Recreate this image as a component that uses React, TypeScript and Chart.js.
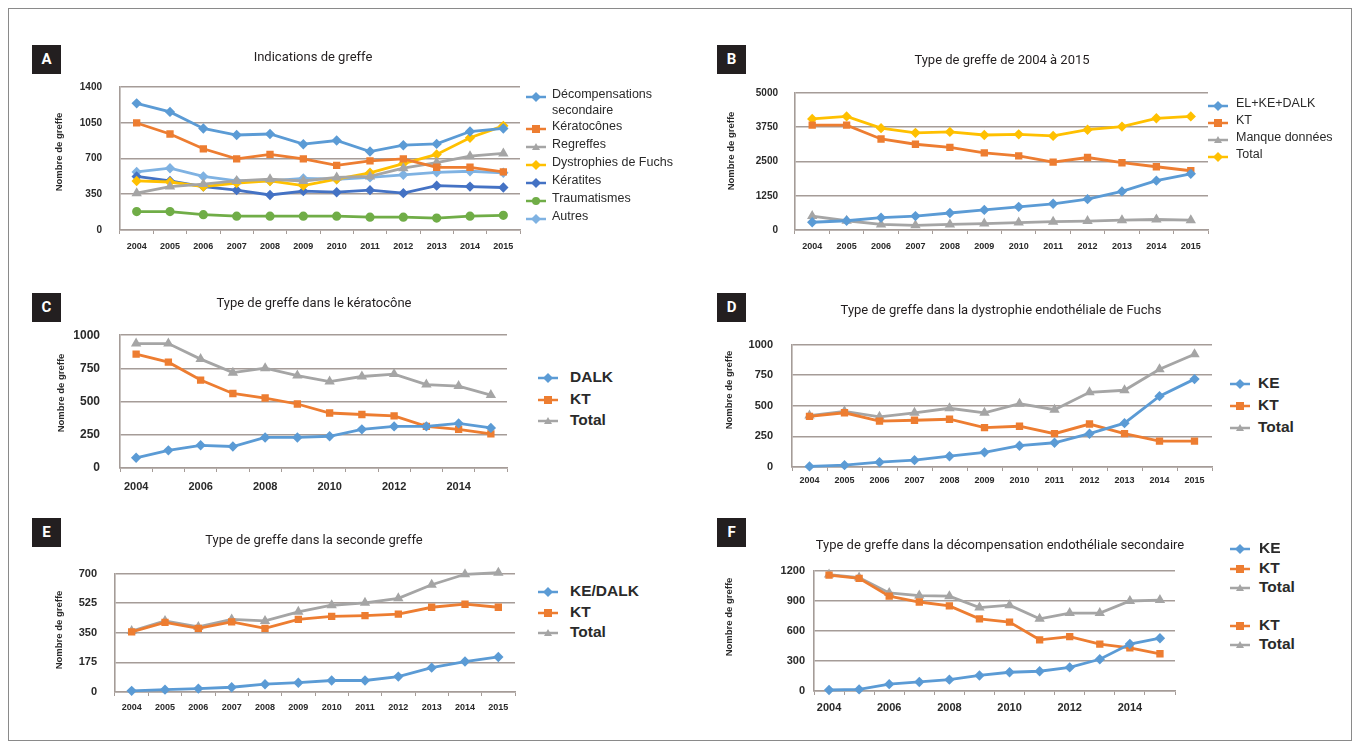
import React, { useEffect, useRef } from 'react';
import { Chart, registerables } from 'chart.js';
Chart.register(...registerables);

// ---------- data ----------
const YEARS = ['2004', '2005', '2006', '2007', '2008', '2009', '2010', '2011', '2012', '2013', '2014', '2015'];

// A - Indications de greffe
const A_TICKS = [0, 350, 700, 1050, 1400];
const A_DECOMP = [1240, 1156, 994, 930, 940, 840, 876, 768, 830, 843, 964, 994];
const A_KERATOCONE = [1048, 940, 795, 696, 740, 696, 632, 677, 696, 614, 614, 569];
const A_REGREFFE = [361, 425, 450, 480, 497, 480, 515, 524, 605, 660, 723, 750];
const A_FUCHS = [480, 470, 425, 460, 480, 434, 497, 560, 650, 740, 903, 1020];
const A_KERATITE = [524, 480, 425, 390, 343, 380, 370, 390, 361, 434, 425, 416];
const A_TRAUMA = [180, 180, 150, 135, 135, 135, 135, 126, 126, 117, 135, 144];
const A_AUTRES = [569, 605, 524, 480, 480, 505, 497, 515, 540, 565, 575, 560];

// B - Type de greffe de 2004 à 2015
const B_TICKS = [0, 1250, 2500, 3750, 5000];
const B_ELKE = [282, 338, 450, 507, 620, 732, 845, 957, 1126, 1408, 1802, 2050];
const B_KT = [3829, 3829, 3322, 3130, 3018, 2815, 2703, 2477, 2646, 2455, 2308, 2162];
const B_MANQUE = [507, 338, 203, 169, 203, 236, 270, 304, 327, 360, 383, 360];
const B_TOTAL = [4054, 4145, 3716, 3547, 3581, 3468, 3491, 3435, 3660, 3773, 4077, 4145];

// C - kératocône
const C_TICKS = [0, 250, 500, 750, 1000];
const C_DALK = [77, 133, 171, 162, 230, 230, 239, 291, 313, 313, 336, 302];
const C_KT = [858, 797, 662, 561, 527, 482, 414, 403, 392, 313, 291, 257];
const C_TOTAL = [937, 937, 820, 718, 752, 696, 651, 689, 707, 628, 617, 549];

// D - dystrophie endothéliale de Fuchs
const D_TICKS = [0, 250, 500, 750, 1000];
const D_KE = [5, 15, 39, 56, 88, 120, 174, 198, 272, 358, 579, 718];
const D_KT = [414, 443, 375, 382, 390, 321, 333, 272, 351, 272, 211, 211];
const D_TOTAL = [420, 455, 410, 443, 480, 443, 517, 468, 610, 627, 799, 921];

// E - seconde greffe
const E_TICKS = [0, 175, 350, 525, 700];
const E_KEDALK = [7, 14, 20, 28, 46, 55, 68, 68, 91, 144, 180, 207];
const E_KT = [355, 412, 376, 415, 376, 429, 447, 452, 460, 501, 519, 501];
const E_TOTAL = [360, 420, 385, 429, 420, 474, 513, 527, 554, 634, 696, 705];

// F - décompensation endothéliale secondaire
const F_TICKS = [0, 300, 600, 900, 1200];
const F_KE = [10, 16, 68, 90, 113, 155, 187, 197, 235, 316, 468, 526];
const F_KT = [1155, 1123, 945, 887, 848, 719, 687, 510, 542, 468, 429, 371];
const F_TOTAL = [1160, 1130, 977, 951, 945, 832, 855, 719, 777, 777, 897, 906];

// ---------- styles ----------
const BLUE = '#5b9bd5';
const ORANGE = '#ed7d31';
const GRAY = '#a5a5a5';
const YELLOW = '#ffc000';
const DKBLUE = '#4472c4';
const GREEN = '#70ad47';
const LTBLUE = '#7fb2e2';
const GRID = '#a59c98';
const TXT = '#2a2a2a';
const FONT = '"Liberation Sans", Arial, sans-serif';
const TITLE_FONT = 'Roboto, "Open Sans", sans-serif';

type Series = { label: string; data: number[]; color: string; point: string };
type Panel = {
  key: string;
  plot: { l: number; t: number; r: number; b: number };
  ticks: number[];
  series: Series[];
  everyOther: boolean;
  xFont: number;
  xPad: number;
  yFont: number;
  yPad: number;
};

const YW = 60;
const PT = 12;
const PR = 14;
const XH = 34;

const PANELS: Panel[] = [
  {
    key: 'A', plot: { l: 120, t: 75, r: 520, b: 230 }, ticks: A_TICKS, everyOther: false, xFont: 9, xPad: 7, yFont: 10, yPad: 18,
    series: [
      { label: 'Décompensations secondaire', data: A_DECOMP, color: BLUE, point: 'rectRot' },
      { label: 'Kératocônes', data: A_KERATOCONE, color: ORANGE, point: 'rect' },
      { label: 'Regreffes', data: A_REGREFFE, color: GRAY, point: 'triangle' },
      { label: 'Dystrophies de Fuchs', data: A_FUCHS, color: YELLOW, point: 'rectRot' },
      { label: 'Kératites', data: A_KERATITE, color: DKBLUE, point: 'rectRot' },
      { label: 'Traumatismes', data: A_TRAUMA, color: GREEN, point: 'circle' },
      { label: 'Autres', data: A_AUTRES, color: LTBLUE, point: 'rectRot' },
    ],
  },
  {
    key: 'B', plot: { l: 795, t: 82, r: 1208, b: 230 }, ticks: B_TICKS, everyOther: false, xFont: 9, xPad: 7, yFont: 10, yPad: 17,
    series: [
      { label: 'EL+KE+DALK', data: B_ELKE, color: BLUE, point: 'rectRot' },
      { label: 'KT', data: B_KT, color: ORANGE, point: 'rect' },
      { label: 'Manque données', data: B_MANQUE, color: GRAY, point: 'triangle' },
      { label: 'Total', data: B_TOTAL, color: YELLOW, point: 'rectRot' },
    ],
  },
  {
    key: 'C', plot: { l: 120, t: 320, r: 507, b: 468 }, ticks: C_TICKS, everyOther: true, xFont: 11, xPad: 8, yFont: 12, yPad: 20,
    series: [
      { label: 'DALK', data: C_DALK, color: BLUE, point: 'rectRot' },
      { label: 'KT', data: C_KT, color: ORANGE, point: 'rect' },
      { label: 'Total', data: C_TOTAL, color: GRAY, point: 'triangle' },
    ],
  },
  {
    key: 'D', plot: { l: 792, t: 331, r: 1212, b: 467 }, ticks: D_TICKS, everyOther: false, xFont: 9, xPad: 4, yFont: 11, yPad: 19,
    series: [
      { label: 'KE', data: D_KE, color: BLUE, point: 'rectRot' },
      { label: 'KT', data: D_KT, color: ORANGE, point: 'rect' },
      { label: 'Total', data: D_TOTAL, color: GRAY, point: 'triangle' },
    ],
  },
  {
    key: 'E', plot: { l: 115, t: 561, r: 515, b: 692 }, ticks: E_TICKS, everyOther: false, xFont: 9, xPad: 6, yFont: 11, yPad: 18,
    series: [
      { label: 'KE/DALK', data: E_KEDALK, color: BLUE, point: 'rectRot' },
      { label: 'KT', data: E_KT, color: ORANGE, point: 'rect' },
      { label: 'Total', data: E_TOTAL, color: GRAY, point: 'triangle' },
    ],
  },
  {
    key: 'F', plot: { l: 814, t: 567, r: 1175, b: 691 }, ticks: F_TICKS, everyOther: true, xFont: 11, xPad: 6, yFont: 11, yPad: 9,
    series: [
      { label: 'KE', data: F_KE, color: BLUE, point: 'rectRot' },
      { label: 'KT', data: F_KT, color: ORANGE, point: 'rect' },
      { label: 'Total', data: F_TOTAL, color: GRAY, point: 'triangle' },
    ],
  },
];

// ---------- layout of decorations ----------
const LETTERS = [
  { k: 'A', x: 32, y: 45 }, { k: 'B', x: 717, y: 45 },
  { k: 'C', x: 32, y: 293 }, { k: 'D', x: 717, y: 293 },
  { k: 'E', x: 32, y: 518 }, { k: 'F', x: 717, y: 518 },
];
const TITLES = [
  { t: 'Indications de greffe', x: 313, y: 57 },
  { t: 'Type de greffe de 2004 à 2015', x: 1002, y: 60 },
  { t: 'Type de greffe dans le kératocône', x: 314, y: 303 },
  { t: 'Type de greffe dans la dystrophie endothéliale de Fuchs', x: 1001, y: 310 },
  { t: 'Type de greffe dans la seconde greffe', x: 314, y: 540 },
  { t: 'Type de greffe dans la décompensation endothéliale secondaire', x: 1000, y: 545 },
];
const YTITLES = [
  { x: 58, y: 152 }, { x: 730, y: 151 }, { x: 60, y: 393 },
  { x: 728, y: 390 }, { x: 58, y: 630 }, { x: 728, y: 617 },
];

type LegItem = { label: string; color: string; point: string; y: number };
const LEGENDS: { mx: number; tx: number; size: number; weight: number; items: LegItem[] }[] = [
  {
    mx: 536, tx: 552, size: 12.5, weight: 400, items: [
      { label: 'Décompensations', color: BLUE, point: 'rectRot', y: 97 },
      { label: 'secondaire', color: '', point: '', y: 113 },
      { label: 'Kératocônes', color: ORANGE, point: 'rect', y: 129 },
      { label: 'Regreffes', color: GRAY, point: 'triangle', y: 147 },
      { label: 'Dystrophies de Fuchs', color: YELLOW, point: 'rectRot', y: 165 },
      { label: 'Kératites', color: DKBLUE, point: 'rectRot', y: 183 },
      { label: 'Traumatismes', color: GREEN, point: 'circle', y: 201 },
      { label: 'Autres', color: LTBLUE, point: 'rectRot', y: 219 },
    ],
  },
  {
    mx: 1218, tx: 1236, size: 12.5, weight: 400, items: [
      { label: 'EL+KE+DALK', color: BLUE, point: 'rectRot', y: 106 },
      { label: 'KT', color: ORANGE, point: 'rect', y: 123 },
      { label: 'Manque données', color: GRAY, point: 'triangle', y: 140 },
      { label: 'Total', color: YELLOW, point: 'rectRot', y: 157 },
    ],
  },
  {
    mx: 548, tx: 570, size: 15.5, weight: 600, items: [
      { label: 'DALK', color: BLUE, point: 'rectRot', y: 378 },
      { label: 'KT', color: ORANGE, point: 'rect', y: 400 },
      { label: 'Total', color: GRAY, point: 'triangle', y: 421 },
    ],
  },
  {
    mx: 1240, tx: 1258, size: 15.5, weight: 600, items: [
      { label: 'KE', color: BLUE, point: 'rectRot', y: 384 },
      { label: 'KT', color: ORANGE, point: 'rect', y: 406 },
      { label: 'Total', color: GRAY, point: 'triangle', y: 428 },
    ],
  },
  {
    mx: 548, tx: 570, size: 15.5, weight: 600, items: [
      { label: 'KE/DALK', color: BLUE, point: 'rectRot', y: 592 },
      { label: 'KT', color: ORANGE, point: 'rect', y: 613 },
      { label: 'Total', color: GRAY, point: 'triangle', y: 633 },
    ],
  },
  {
    mx: 1240, tx: 1259, size: 15.5, weight: 600, items: [
      { label: 'KE', color: BLUE, point: 'rectRot', y: 549 },
      { label: 'KT', color: ORANGE, point: 'rect', y: 569 },
      { label: 'Total', color: GRAY, point: 'triangle', y: 588 },
      { label: 'KT', color: ORANGE, point: 'rect', y: 626 },
      { label: 'Total', color: GRAY, point: 'triangle', y: 645 },
    ],
  },
];

function Marker({ color, point }: { color: string; point: string }) {
  if (!color) return null;
  let shape: React.ReactNode = null;
  if (point === 'rectRot') shape = <polygon points="10,1 15,6 10,11 5,6" fill={color} />;
  else if (point === 'rect') shape = <rect x={6} y={2} width={8} height={8} fill={color} />;
  else if (point === 'triangle') shape = <polygon points="10,2 14,9 6,9" fill={color} />;
  else shape = <circle cx={10} cy={6} r={4} fill={color} />;
  return (
    <svg width={20} height={12} style={{ display: 'block' }}>
      <line x1={0} y1={6} x2={20} y2={6} stroke={color} strokeWidth={2.5} />
      {shape}
    </svg>
  );
}

function LineChart({ p }: { p: Panel }) {
  const ref = useRef<HTMLCanvasElement>(null);
  const w = p.plot.r - p.plot.l + YW + PR;
  const h = p.plot.b - p.plot.t + PT + XH;
  useEffect(() => {
    const ticks = p.ticks;
    const chart = new Chart(ref.current as HTMLCanvasElement, {
      type: 'line',
      data: {
        labels: YEARS,
        datasets: p.series.map((s) => ({
          label: s.label,
          data: s.data,
          borderColor: s.color,
          backgroundColor: s.color,
          pointBackgroundColor: s.color,
          pointBorderColor: s.color,
          pointStyle: s.point as any,
          pointRadius: 3.2,
          borderWidth: 2.8,
          tension: 0,
          clip: false as any,
        })),
      },
      options: {
        animation: false,
        responsive: false,
        maintainAspectRatio: false,
        layout: { padding: { left: 0, top: PT, right: PR, bottom: 0 } },
        plugins: { legend: { display: false }, tooltip: { enabled: false } },
        scales: {
          x: {
            offset: true,
            grid: { display: true, drawOnChartArea: false, offset: true, tickLength: 4, color: GRID, lineWidth: 1 },
            border: { display: true, color: GRID, width: 1.6 },
            ticks: {
              autoSkip: false,
              maxRotation: 0,
              minRotation: 0,
              padding: p.xPad,
              color: TXT,
              font: { family: FONT, size: p.xFont, weight: 'bold' },
              callback: (_v: any, i: number) => (p.everyOther && i % 2 === 1 ? '' : YEARS[i]),
            },
            afterFit: (s: any) => { s.height = XH; },
          },
          y: {
            min: ticks[0],
            max: ticks[ticks.length - 1],
            grid: { color: GRID, lineWidth: 1.6, drawTicks: false },
            border: { display: true, color: GRID, width: 1.6 },
            ticks: {
              stepSize: ticks[1] - ticks[0],
              padding: p.yPad,
              color: TXT,
              font: { family: FONT, size: p.yFont, weight: 'bold' },
              callback: (v: any) => String(v),
            },
            afterFit: (s: any) => { s.width = YW; },
          },
        },
      },
    });
    return () => chart.destroy();
  }, []);
  return (
    <canvas
      ref={ref}
      width={w}
      height={h}
      style={{ position: 'absolute', left: p.plot.l - YW, top: p.plot.t - PT, width: w, height: h }}
    />
  );
}

export default function App() {
  return (
    <div style={{ position: 'absolute', left: 0, top: 0, width: 1359, height: 748, overflow: 'hidden', background: '#fff' }}>
      <div style={{ position: 'absolute', left: 8, top: 8, width: 1342, height: 731, border: '1px solid #8a8a8a' }} />
      {PANELS.map((p) => <LineChart key={p.key} p={p} />)}
      {LETTERS.map((l) => (
        <div key={l.k} style={{
          position: 'absolute', left: l.x, top: l.y, width: 29, height: 29, background: '#231f20', color: '#fff',
          font: `bold 15px ${TITLE_FONT}`, lineHeight: '29px', textAlign: 'center',
        }}>{l.k}</div>
      ))}
      {TITLES.map((t, i) => (
        <div key={i} style={{
          position: 'absolute', left: t.x - 300, top: t.y - 9, width: 600, textAlign: 'center',
          font: `13px ${TITLE_FONT}`, color: '#231f20', lineHeight: '18px', whiteSpace: 'nowrap',
        }}>{t.t}</div>
      ))}
      {YTITLES.map((t, i) => (
        <div key={i} style={{
          position: 'absolute', left: t.x, top: t.y, transform: 'translate(-50%, -50%) rotate(-90deg)',
          font: `bold 9.5px ${FONT}`, color: TXT, whiteSpace: 'nowrap',
        }}>Nombre de greffe</div>
      ))}
      {LEGENDS.map((lg, i) => (
        <React.Fragment key={i}>
          {lg.items.map((it, j) => (
            <React.Fragment key={j}>
              <div style={{ position: 'absolute', left: lg.mx - 10, top: it.y - 6 }}>
                <Marker color={it.color} point={it.point} />
              </div>
              <div style={{
                position: 'absolute', left: lg.tx, top: it.y - 10, height: 20, lineHeight: '20px',
                font: `${lg.weight} ${lg.size}px ${FONT}`, color: TXT, whiteSpace: 'nowrap',
              }}>{it.label}</div>
            </React.Fragment>
          ))}
        </React.Fragment>
      ))}
    </div>
  );
}
